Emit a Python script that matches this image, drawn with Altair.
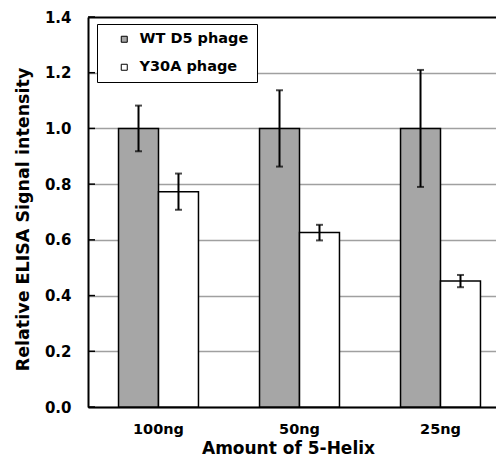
import altair as alt
import pandas as pd

groups = ["100ng", "50ng", "25ng"]
series = ["WT D5 phage", "Y30A phage"]
wt_vals = [1.0, 1.0, 1.0]
wt_err = [0.082, 0.137, 0.21]
y30_vals = [0.773, 0.626, 0.452]
y30_err = [0.065, 0.028, 0.022]
y_ticks = [0.0, 0.2, 0.4, 0.6, 0.8, 1.0, 1.2, 1.4]

rows = []
for g, v, e in zip(groups, wt_vals, wt_err):
    rows.append({"group": g, "series": series[0], "value": v, "lo": v - e, "hi": v + e})
for g, v, e in zip(groups, y30_vals, y30_err):
    rows.append({"group": g, "series": series[1], "value": v, "lo": v - e, "hi": v + e})
df = pd.DataFrame(rows)
tick_df = pd.DataFrame({"t": y_ticks})

FONT = "DejaVu Sans"
H = 390

x_enc = alt.X(
    "group:N",
    sort=groups,
    scale=alt.Scale(range=[0, 423], paddingInner=0.433, paddingOuter=0.2165),
    axis=alt.Axis(
        title="Amount of 5-Helix",
        labelFont=FONT, labelFontSize=14.5, labelFontWeight="bold", labelColor="black",
        labelAngle=0, labelPadding=15, ticks=False,
        domain=True, domainColor="black", domainWidth=2,
        titleFont=FONT, titleFontSize=17, titleFontWeight="bold", titleColor="black",
        titleX=200, titleY=46, titleBaseline="alphabetic",
    ),
)
xo_enc = alt.XOffset("series:N", sort=series, scale=alt.Scale(paddingInner=0, paddingOuter=0))
y_scale = alt.Scale(domain=[0, 1.4], nice=False)

bars = alt.Chart(df).mark_bar(stroke="black", strokeWidth=1.5).encode(
    x=x_enc,
    xOffset=xo_enc,
    y=alt.Y(
        "value:Q",
        scale=y_scale,
        axis=alt.Axis(
            values=y_ticks, format=".1f",
            title="Relative ELISA Signal intensity",
            labelFont=FONT, labelFontSize=15, labelFontWeight="bold", labelColor="black",
            labelPadding=17, ticks=False,
            domain=True, domainColor="black", domainWidth=2,
            grid=True,
            gridColor=alt.condition("datum.value >= 1.39", alt.value("black"), alt.value("#a0a0a0")),
            gridWidth=alt.condition("datum.value >= 1.39", alt.value(2), alt.value(1.5)),
            titleFont=FONT, titleFontSize=17.5, titleFontWeight="bold", titleColor="black",
            titleX=-56, titleY=202, titleBaseline="bottom", titleAngle=270,
        ),
    ),
    color=alt.Color(
        "series:N",
        sort=series,
        scale=alt.Scale(domain=series, range=["#a6a6a6", "#ffffff"]),
        legend=alt.Legend(
            title=None, orient="none", legendX=9, legendY=7,
            strokeColor="black", fillColor="white", padding=8,
            labelFont=FONT, labelFontSize=14.5, labelFontWeight="bold", labelColor="black",
            symbolType="square", symbolSize=36, symbolStrokeColor="black", symbolStrokeWidth=1,
            symbolOffset=12, labelOffset=8, rowPadding=13,
        ),
    ),
)

err = alt.Chart(df).mark_rule(color="black", strokeWidth=2).encode(
    x=alt.X("group:N", sort=groups),
    xOffset=xo_enc,
    y=alt.Y("lo:Q", scale=y_scale),
    y2="hi:Q",
)
cap_lo = alt.Chart(df).mark_tick(color="black", thickness=2, size=7).encode(
    x=alt.X("group:N", sort=groups),
    xOffset=xo_enc,
    y=alt.Y("lo:Q", scale=y_scale),
)
cap_hi = alt.Chart(df).mark_tick(color="black", thickness=2, size=7).encode(
    x=alt.X("group:N", sort=groups),
    xOffset=xo_enc,
    y=alt.Y("hi:Q", scale=y_scale),
)
yticks = alt.Chart(tick_df).mark_rule(color="black", strokeWidth=1.5).encode(
    y=alt.Y("t:Q", scale=y_scale),
    x=alt.value(0),
    x2=alt.value(7),
)

chart = alt.layer(bars, err, cap_lo, cap_hi, yticks).properties(
    width=408,
    height=H,
    autosize=alt.AutoSizeParams(type="none"),
    padding={"left": 80, "top": 9, "right": 0, "bottom": 51},
).configure_view(stroke=None).configure(background="white")

chart.save("out.html", embed_options={"renderer": "svg", "actions": False})
